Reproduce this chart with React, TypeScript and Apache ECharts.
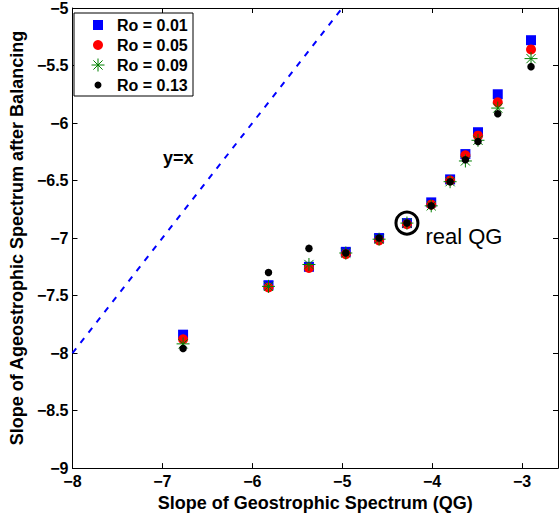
import React, { useEffect, useRef } from "react";
import * as echarts from "echarts";

// Data
const geoSlopes = [-6.77, -5.82, -5.37, -4.96, -4.59, -4.28, -4.01, -3.8, -3.63, -3.49, -3.27, -2.9];
const ro001 = [-7.84, -7.41, -7.25, -7.12, -7.0, -6.87, -6.69, -6.49, -6.27, -6.08, -5.75, -5.28];
const ro005 = [-7.88, -7.43, -7.26, -7.14, -7.02, -6.88, -6.71, -6.5, -6.28, -6.11, -5.82, -5.36];
const ro009 = [-7.92, -7.42, -7.23, -7.13, -7.01, -6.87, -6.72, -6.51, -6.33, -6.15, -5.87, -5.44];
const ro013 = [-7.96, -7.3, -7.09, -7.13, -7.0, -6.87, -6.72, -6.51, -6.32, -6.16, -5.92, -5.51];
const seriesNames = ["Ro = 0.01", "Ro = 0.05", "Ro = 0.09", "Ro = 0.13"];
const identityLine = [[-8, -8], [-5, -5]];
const realQG = [-4.28, -6.87];

const FONT = "'Liberation Sans', Arial, Helvetica, sans-serif";
const STAR = "path://M0,5L10,5M5,0L5,10M1.46,1.46L8.54,8.54M8.54,1.46L1.46,8.54";

const pair = (ys: number[]) => geoSlopes.map((x, i) => [x, ys[i]]);
const minus = (v: number) => String(v).replace("-", "\u2212");

export default function App() {
  const ref = useRef<HTMLDivElement>(null);
  useEffect(() => {
    if (!ref.current) return;
    const chart = echarts.init(ref.current, null, { renderer: "svg" });
    const axisCommon = {
      axisLine: { show: true, onZero: false, lineStyle: { color: "#000", width: 1 } },
      axisTick: { show: true, inside: true, length: 5, lineStyle: { color: "#000" } },
      splitLine: { show: false },
    };
    const lx = 98;
    const legendRows = [25, 45, 65, 85];
    const g = "#008000";
    chart.setOption({
      animation: false,
      backgroundColor: "#fff",
      textStyle: { fontFamily: FONT },
      grid: { left: 69, right: 1, top: 7, bottom: 45, containLabel: false },
      xAxis: [
        {
          type: "value", min: -8, max: -2.6, interval: 1, position: "bottom",
          ...axisCommon,
          axisLabel: {
            show: true, margin: 5, color: "#000", fontWeight: "bold", fontSize: 16, fontFamily: FONT,
            showMaxLabel: false, formatter: (v: number) => minus(v),
          },
          name: "Slope of Geostrophic Spectrum (QG)", nameLocation: "middle", nameGap: 24,
          nameTextStyle: { color: "#000", fontWeight: "bold", fontSize: 18, fontFamily: FONT },
        },
        {
          type: "value", min: -8, max: -2.6, interval: 1, position: "top",
          ...axisCommon, axisLabel: { show: false },
        },
      ],
      yAxis: [
        {
          type: "value", min: -9, max: -5, interval: 0.5, position: "left",
          ...axisCommon,
          axisLabel: {
            show: true, margin: 4, color: "#000", fontWeight: "bold", fontSize: 16, fontFamily: FONT,
            formatter: (v: number) => minus(v),
          },
          name: "Slope of Ageostrophic Spectrum after Balancing", nameLocation: "middle", nameGap: 42,
          nameTextStyle: { color: "#000", fontWeight: "bold", fontSize: 18, fontFamily: FONT },
        },
        {
          type: "value", min: -9, max: -5, interval: 0.5, position: "right",
          ...axisCommon, axisLabel: { show: false },
        },
      ],
      series: [
        {
          type: "line", name: "y=x", data: identityLine, symbol: "none",
          lineStyle: { color: "#0000ff", width: 2, type: [6, 7] }, z: 1,
        },
        {
          type: "scatter", name: seriesNames[0], data: pair(ro001), symbol: "rect", symbolSize: 10,
          itemStyle: { color: "#0000ff", opacity: 1 }, z: 2,
        },
        {
          type: "scatter", name: seriesNames[1], data: pair(ro005), symbol: "circle", symbolSize: 10,
          itemStyle: { color: "#ff0000", opacity: 1 }, z: 3,
        },
        {
          type: "scatter", name: seriesNames[2], data: pair(ro009), symbol: STAR, symbolSize: 13,
          itemStyle: { color: "rgba(0,0,0,0)", borderColor: g, borderWidth: 1, opacity: 1 }, z: 4,
        },
        {
          type: "scatter", name: seriesNames[3], data: pair(ro013), symbol: "circle", symbolSize: 7.5,
          itemStyle: { color: "#000", opacity: 1 }, z: 5,
        },
        {
          type: "scatter", name: "real QG", data: [realQG], symbol: "circle", symbolSize: 22,
          itemStyle: { color: "rgba(0,0,0,0)", borderColor: "#000", borderWidth: 3, opacity: 1 }, z: 6,
          label: {
            show: true, position: "right", distance: 6, offset: [0, 13], formatter: "real QG",
            color: "#000", fontSize: 22, fontFamily: FONT, fontWeight: "normal",
          },
        },
      ],
      graphic: [
        {
          type: "text", left: 163, top: 149,
          style: { text: "y=x", fill: "#000", font: `bold 18px ${FONT}` },
        },
        {
          type: "rect", shape: { x: 74, y: 13, width: 119, height: 83 },
          style: { fill: "#fff", stroke: "#000", lineWidth: 1 }, z: 100,
        },
        {
          type: "rect", shape: { x: lx - 5, y: legendRows[0] - 5, width: 10, height: 10 },
          style: { fill: "#0000ff" }, z: 101,
        },
        { type: "circle", shape: { cx: lx, cy: legendRows[1], r: 5 }, style: { fill: "#ff0000" }, z: 101 },
        { type: "line", shape: { x1: lx - 6.5, y1: legendRows[2], x2: lx + 6.5, y2: legendRows[2] }, style: { stroke: g, lineWidth: 1 }, z: 101 },
        { type: "line", shape: { x1: lx, y1: legendRows[2] - 6.5, x2: lx, y2: legendRows[2] + 6.5 }, style: { stroke: g, lineWidth: 1 }, z: 101 },
        { type: "line", shape: { x1: lx - 4.6, y1: legendRows[2] - 4.6, x2: lx + 4.6, y2: legendRows[2] + 4.6 }, style: { stroke: g, lineWidth: 1 }, z: 101 },
        { type: "line", shape: { x1: lx + 4.6, y1: legendRows[2] - 4.6, x2: lx - 4.6, y2: legendRows[2] + 4.6 }, style: { stroke: g, lineWidth: 1 }, z: 101 },
        { type: "circle", shape: { cx: lx, cy: legendRows[3], r: 3.5 }, style: { fill: "#000" }, z: 101 },
        ...seriesNames.map((n, i) => ({
          type: "text", x: 117, y: legendRows[i], z: 101,
          style: { text: n, fill: "#000", font: `bold 16px ${FONT}`, verticalAlign: "middle", align: "left" },
        })),
      ],
    });
    return () => chart.dispose();
  }, []);
  return (
    <div
      ref={ref}
      style={{ position: "absolute", left: 0, top: 0, width: 559, height: 517, background: "#fff" }}
    />
  );
}
